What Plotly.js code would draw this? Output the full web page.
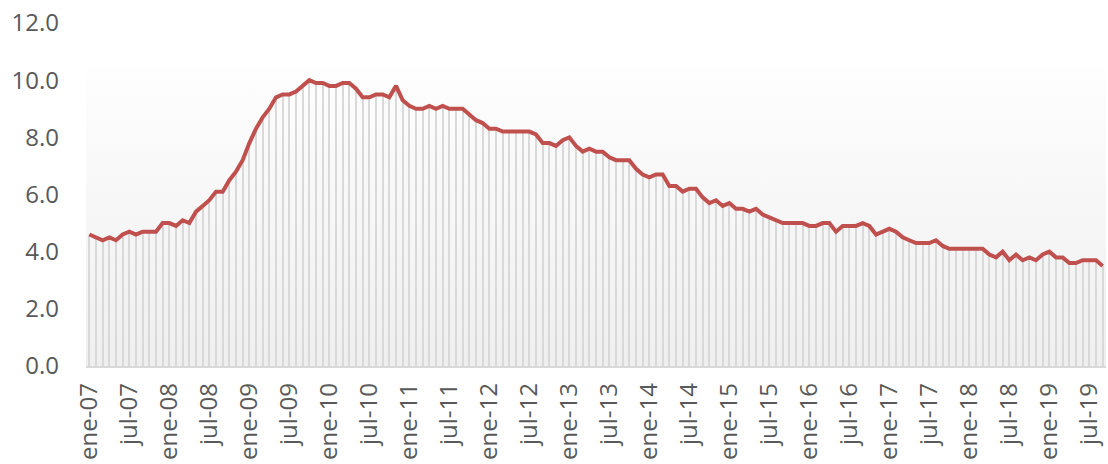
<!DOCTYPE html>
<html>
<head>
<meta charset="utf-8">
<script src="https://cdn.plot.ly/plotly-3.0.1.min.js"></script>
<style>
  html, body { margin: 0; padding: 0; background: #ffffff; }
  #chart { width: 1108px; height: 464px; }
</style>
</head>
<body>
<div id="chart"></div>
<script>
// Month name abbreviations (Spanish)
const monthNames = ['ene','feb','mar','abr','may','jun','jul','ago','sep','oct','nov','dic'];
const firstYear = 2007;

// Monthly values, ene-07 .. sep-19
const values = [
  4.6, 4.5, 4.4, 4.5, 4.4, 4.6, 4.7, 4.6, 4.7, 4.7, 4.7, 5.0,
  5.0, 4.9, 5.1, 5.0, 5.4, 5.6, 5.8, 6.1, 6.1, 6.5, 6.8, 7.2,
  7.8, 8.3, 8.7, 9.0, 9.4, 9.5, 9.5, 9.6, 9.8, 10.0, 9.9, 9.9,
  9.8, 9.8, 9.9, 9.9, 9.7, 9.4, 9.4, 9.5, 9.5, 9.4, 9.8, 9.3,
  9.1, 9.0, 9.0, 9.1, 9.0, 9.1, 9.0, 9.0, 9.0, 8.8, 8.6, 8.5,
  8.3, 8.3, 8.2, 8.2, 8.2, 8.2, 8.2, 8.1, 7.8, 7.8, 7.7, 7.9,
  8.0, 7.7, 7.5, 7.6, 7.5, 7.5, 7.3, 7.2, 7.2, 7.2, 6.9, 6.7,
  6.6, 6.7, 6.7, 6.3, 6.3, 6.1, 6.2, 6.2, 5.9, 5.7, 5.8, 5.6,
  5.7, 5.5, 5.5, 5.4, 5.5, 5.3, 5.2, 5.1, 5.0, 5.0, 5.0, 5.0,
  4.9, 4.9, 5.0, 5.0, 4.7, 4.9, 4.9, 4.9, 5.0, 4.9, 4.6, 4.7,
  4.8, 4.7, 4.5, 4.4, 4.3, 4.3, 4.3, 4.4, 4.2, 4.1, 4.1, 4.1,
  4.1, 4.1, 4.1, 3.9, 3.8, 4.0, 3.7, 3.9, 3.7, 3.8, 3.7, 3.9,
  4.0, 3.8, 3.8, 3.6, 3.6, 3.7, 3.7, 3.7, 3.5
];

// Tick labels shown on the x axis
const tickLabels = [
  'ene-07','jul-07','ene-08','jul-08','ene-09','jul-09','ene-10','jul-10',
  'ene-11','jul-11','ene-12','jul-12','ene-13','jul-13','ene-14','jul-14',
  'ene-15','jul-15','ene-16','jul-16','ene-17','jul-17','ene-18','jul-18',
  'ene-19','jul-19'
];

// y axis ticks
const yTicks = [0, 2, 4, 6, 8, 10, 12];

// Category labels for each month
const categories = values.map((v, i) => {
  const m = i % 12;
  const y = firstYear + Math.floor(i / 12);
  return monthNames[m] + '-' + String(y % 100).padStart(2, '0');
});

const lineColor = '#C0504D';
const dropColor = '#d9d9d9';
const textColor = '#595959';
const fontFamily = '"Open Sans", "Noto Sans", "DejaVu Sans", sans-serif';

const gradTop = 10.45;
const gradSvg = '<svg xmlns="http://www.w3.org/2000/svg" width="100" height="100" preserveAspectRatio="none">' +
  '<defs><linearGradient id="g" x1="0" y1="0" x2="0" y2="1">' +
  '<stop offset="0" stop-color="#fefefe"/><stop offset="1" stop-color="#efefef"/>' +
  '</linearGradient></defs><rect width="100" height="100" fill="url(#g)"/></svg>';
const gradSrc = 'data:image/svg+xml;charset=utf-8,' + encodeURIComponent(gradSvg);

const traces = [
  {
    type: 'bar',
    x: categories,
    y: values,
    width: 0.3,
    marker: { color: dropColor, line: { width: 0 } },
    hoverinfo: 'skip',
    showlegend: false
  },
  {
    type: 'scatter',
    mode: 'lines',
    x: categories,
    y: values,
    line: { color: lineColor, width: 4 },
    showlegend: false
  }
];

const layout = {
  width: 1108,
  height: 464,
  margin: { l: 86, r: 2, t: 23, b: 98 },
  paper_bgcolor: '#ffffff',
  plot_bgcolor: 'rgba(0,0,0,0)',
  showlegend: false,
  bargap: 0,
  font: { family: fontFamily, color: textColor, size: 24 },
  xaxis: {
    type: 'category',
    range: [-0.5, values.length - 0.5],
    tickmode: 'array',
    tickvals: tickLabels,
    ticktext: tickLabels,
    tickangle: -90,
    ticks: '',
    showgrid: false,
    zeroline: false,
    showline: true,
    linecolor: '#d9d9d9',
    linewidth: 1.5,
    ticklabelstandoff: 6,
    tickfont: { family: fontFamily, color: textColor, size: 24 },
    fixedrange: true
  },
  yaxis: {
    range: [0, 12],
    tickmode: 'array',
    tickvals: yTicks,
    ticktext: yTicks.map(v => v.toFixed(1)),
    ticks: '',
    showgrid: false,
    zeroline: false,
    showline: false,
    ticklabelstandoff: 26,
    tickfont: { family: fontFamily, color: textColor, size: 24 },
    fixedrange: true
  },
  images: [{
    source: gradSrc,
    xref: 'paper', yref: 'y',
    x: 0, y: gradTop,
    sizex: 1, sizey: gradTop,
    xanchor: 'left', yanchor: 'top',
    sizing: 'stretch',
    layer: 'below'
  }]
};

Plotly.newPlot('chart', traces, layout, { displayModeBar: false, staticPlot: true });
</script>
</body>
</html>
